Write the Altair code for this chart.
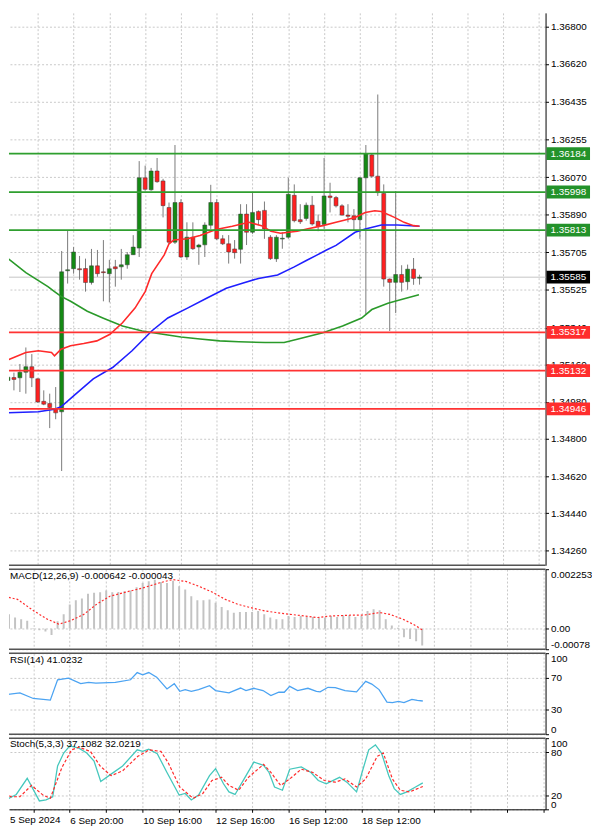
import altair as alt
import pandas as pd

FONT = "Liberation Sans"

# ---------------- data (H4 candles, bar index 0..69) ----------------
bars = list(range(70))
opens = [1.35084, 1.35098, 1.35097, 1.35124, 1.35151, 1.35092, 1.34983, 1.34972, 1.34948, 1.34932,
         1.35616, 1.35626, 1.35626, 1.35627, 1.35559, 1.35640, 1.35611, 1.35602, 1.35635, 1.35635,
         1.35645, 1.35694, 1.35726, 1.36067, 1.36009, 1.36100, 1.36052, 1.35923, 1.35755, 1.35947,
         1.35683, 1.35779, 1.35731, 1.35742, 1.35837, 1.35947, 1.35771, 1.35747, 1.35722, 1.35720,
         1.35891, 1.35803, 1.35904, 1.35909, 1.35779, 1.35674, 1.35770, 1.35779, 1.35982, 1.35864,
         1.35870, 1.35934, 1.35856, 1.35841, 1.35979, 1.35971, 1.35931, 1.35886, 1.35883, 1.35864,
         1.36067, 1.36178, 1.36075, 1.35991, 1.35576, 1.35560, 1.35598, 1.35563, 1.35624, 1.35580]
highs = [1.35148, 1.35122, 1.35164, 1.35244, 1.35212, 1.35094, 1.35036, 1.35020, 1.35052, 1.35712,
         1.35813, 1.35731, 1.35688, 1.35675, 1.35722, 1.35717, 1.35765, 1.35669, 1.35669, 1.35722,
         1.35707, 1.35789, 1.36148, 1.36126, 1.36115, 1.36163, 1.36062, 1.35947, 1.36226, 1.35963,
         1.35851, 1.35851, 1.35747, 1.35851, 1.36033, 1.35963, 1.35789, 1.35789, 1.35765, 1.35939,
         1.35939, 1.35995, 1.35909, 1.35952, 1.35789, 1.35789, 1.35803, 1.36067, 1.36035, 1.35939,
         1.35947, 1.35979, 1.35889, 1.36163, 1.36043, 1.35979, 1.35939, 1.35939, 1.35915, 1.36071,
         1.36226, 1.36187, 1.36471, 1.36035, 1.35579, 1.36003, 1.35643, 1.35646, 1.35678, 1.35597]
lows = [1.35036, 1.35036, 1.35028, 1.35020, 1.35052, 1.34975, 1.34964, 1.34853, 1.34896, 1.34645,
        1.35554, 1.35602, 1.35573, 1.35515, 1.35549, 1.35587, 1.35468, 1.35463, 1.35539, 1.35573,
        1.35626, 1.35693, 1.35683, 1.36004, 1.36004, 1.36043, 1.35875, 1.35746, 1.35746, 1.35678,
        1.35669, 1.35717, 1.35645, 1.35683, 1.35819, 1.35765, 1.35741, 1.35651, 1.35675, 1.35651,
        1.35741, 1.35795, 1.35837, 1.35771, 1.35669, 1.35659, 1.35723, 1.35771, 1.35851, 1.35843,
        1.35859, 1.35835, 1.35808, 1.35819, 1.35899, 1.35923, 1.35883, 1.35851, 1.35811, 1.35771,
        1.35404, 1.36067, 1.35979, 1.35539, 1.35324, 1.35411, 1.35515, 1.35524, 1.35548, 1.35549]
closes = [1.35100, 1.35089, 1.35124, 1.35151, 1.35097, 1.34980, 1.34969, 1.34953, 1.34927, 1.35611,
          1.35621, 1.35707, 1.35621, 1.35559, 1.35640, 1.35602, 1.35607, 1.35626, 1.35626, 1.35645,
          1.35694, 1.35731, 1.36067, 1.36011, 1.36100, 1.36048, 1.35932, 1.35755, 1.35947, 1.35683,
          1.35779, 1.35723, 1.35741, 1.35838, 1.35947, 1.35771, 1.35747, 1.35707, 1.35704, 1.35891,
          1.35803, 1.35899, 1.35864, 1.35819, 1.35675, 1.35779, 1.35774, 1.35987, 1.35859, 1.35854,
          1.35934, 1.35843, 1.35832, 1.35979, 1.35971, 1.35931, 1.35886, 1.35880, 1.35864, 1.36067,
          1.36183, 1.36075, 1.35995, 1.35576, 1.35560, 1.35598, 1.35560, 1.35624, 1.35579, 1.35585]

# moving averages (bar position, price)
ma_red_x = [-0.3, 3.0, 5.1, 7.3, 7.8, 8.9, 10.5, 12.7, 14.9, 17.1, 19.2, 21.3, 23.0, 24.1, 26.2, 27.0, 27.8,
            30.1, 32.2, 34.9, 37.6, 40.4, 42.5, 44.1, 45.7, 48.5, 50.1, 52.8, 55.0, 58.2, 59.9, 61.5, 62.6,
            64.8, 66.4, 68.0, 69.0]
ma_red_v = [1.35180, 1.35220, 1.35228, 1.35220, 1.35204, 1.35236, 1.35252, 1.35263, 1.35276, 1.35308,
            1.35364, 1.35435, 1.35515, 1.35602, 1.35693, 1.35747, 1.35765, 1.35771, 1.35787, 1.35816,
            1.35832, 1.35851, 1.35835, 1.35808, 1.35798, 1.35808, 1.35819, 1.35835, 1.35851, 1.35875,
            1.35899, 1.35907, 1.35904, 1.35875, 1.35851, 1.35835, 1.35832]
ma_blue_x = [-0.3, 5.1, 7.8, 8.9, 11.1, 14.3, 17.6, 20.8, 24.1, 26.8, 30.1, 33.3, 36.6, 39.3, 42.0, 45.2,
             48.0, 50.1, 51.7, 53.4, 55.0, 58.2, 59.9, 62.6, 65.3, 69.0]
ma_blue_v = [1.34927, 1.34932, 1.34944, 1.34956, 1.35012, 1.35092, 1.35148, 1.35228, 1.35324, 1.35387,
             1.35435, 1.35483, 1.35531, 1.35555, 1.35579, 1.35596, 1.35635, 1.35667, 1.35691, 1.35717,
             1.35739, 1.35803, 1.35819, 1.35838, 1.35838, 1.35832]
ma_green_x = [-0.3, 3.0, 6.7, 7.8, 8.9, 10.5, 13.3, 16.0, 19.2, 22.5, 25.7, 29.0, 32.2, 35.5, 38.7, 43.1,
              46.3, 48.5, 52.8, 56.1, 59.3, 61.0, 63.7, 65.8, 68.9]
ma_green_v = [1.35683, 1.35607, 1.35539, 1.35515, 1.35492, 1.35468, 1.35420, 1.35386, 1.35348, 1.35324,
              1.35309, 1.35295, 1.35285, 1.35276, 1.35272, 1.35268, 1.35268, 1.35284, 1.35316, 1.35348,
              1.35387, 1.35428, 1.35459, 1.35476, 1.35500]

price_ticks = [1.36800, 1.36620, 1.36435, 1.36255, 1.36070, 1.35890, 1.35705, 1.35525, 1.35340,
               1.35160, 1.34980, 1.34800, 1.34620, 1.34440, 1.34260]
levels_green = [1.36184, 1.35998, 1.35813]
levels_red = [1.35317, 1.35132, 1.34946]
last_price = 1.35585

# MACD
macd_hist = [0.000694, 0.000544, 0.000419, 0.000357, 0.000295, 0.00002, -0.00006, -0.000105, -0.000242, 0.00028,
             0.000544, 0.000919, 0.001081, 0.001143, 0.001318, 0.001356, 0.00138, 0.001443, 0.00138, 0.001393,
             0.001418, 0.001443, 0.001568, 0.00173, 0.001792, 0.001855, 0.001767, 0.00173, 0.001817, 0.001605,
             0.00148, 0.001231, 0.001081, 0.001081, 0.001106, 0.000981, 0.000819, 0.000694, 0.000607, 0.000632,
             0.000632, 0.000632, 0.000669, 0.000544, 0.000419, 0.000357, 0.000357, 0.000482, 0.000444, 0.000482,
             0.000444, 0.000444, 0.000419, 0.000419, 0.000482, 0.000444, 0.000507, 0.000507, 0.000444, 0.000482,
             0.000669, 0.000731, 0.000694, 0.000357, 0.00012, 0.00003, -0.00033, -0.000392, -0.000479, -0.000642]
macd_sig_x = [-0.3, 2.4, 5.1, 7.3, 9.2, 11.1, 13.3, 15.4, 17.6, 20.3, 23.0, 25.7, 27.9, 30.1, 32.2, 34.4,
              36.6, 38.7, 40.9, 43.1, 46.3, 49.6, 51.7, 53.9, 57.2, 59.3, 62.0, 63.7, 65.8, 67.5, 69.0]
macd_sig_v = [0.00125, 0.00111, 0.00067, 0.00036, 0.00017, 0.00030, 0.00054, 0.00092, 0.00123, 0.00139,
              0.00154, 0.00173, 0.00186, 0.00179, 0.00161, 0.00139, 0.00111, 0.00092, 0.00079, 0.00067,
              0.00057, 0.00048, 0.00042, 0.00048, 0.00051, 0.00051, 0.00061, 0.00054, 0.00036, 0.00017,
              -0.000043]
macd_ticks = [0.002253, 0.0, -0.00078]
macd_tick_labels = ["0.002253", "0.00", "-0.00078"]

# RSI
rsi_x = [-0.3, 2.8, 5.0, 7.8, 9.0, 10.8, 12.8, 14.1, 15.3, 18.5, 21.0, 22.1, 23.0, 24.0, 25.3, 27.0, 28.2,
         29.1, 30.0, 31.0, 32.2, 34.0, 35.0, 37.2, 39.1, 40.0, 41.3, 42.8, 44.1, 45.4, 46.3, 47.2, 48.5,
         50.2, 51.6, 52.2, 53.5, 54.7, 56.3, 58.2, 59.7, 60.7, 61.9, 63.2, 64.1, 65.1, 66.0, 67.3, 68.2, 69.1]
rsi_v = [48.2, 51.0, 44.1, 42.1, 67.2, 69.2, 62.4, 63.9, 63.1, 63.9, 67.2, 76.1, 73.3, 76.1, 70.4, 55.8,
         62.4, 53.0, 55.1, 53.0, 55.1, 59.9, 53.9, 51.0, 57.0, 53.9, 56.7, 53.9, 47.8, 51.8, 51.8, 59.1,
         53.9, 56.7, 53.0, 52.2, 57.9, 57.5, 53.9, 52.2, 65.2, 61.9, 55.1, 39.7, 38.9, 40.5, 38.9, 43.0,
         41.8, 41.0]

# Stochastic
stk_x = [-0.3, 1.0, 2.2, 4.0, 6.0, 7.1, 8.2, 9.0, 10.0, 11.0, 12.5, 13.8, 15.0, 16.1, 17.8, 19.7, 22.1,
         23.0, 24.0, 25.4, 27.0, 29.0, 30.0, 31.0, 32.2, 34.0, 35.0, 36.3, 37.2, 38.2, 39.7, 41.3, 42.9,
         43.8, 44.7, 46.0, 47.2, 49.1, 50.7, 51.9, 53.2, 55.4, 56.6, 58.2, 59.1, 60.2, 61.3, 62.3, 63.5,
         64.4, 65.4, 66.5, 67.9, 69.1]
stk_v = [20.0, 15.5, 20.9, 43.6, 11.8, 13.2, 17.7, 60.9, 79.1, 89.1, 85.9, 79.1, 67.7, 39.1, 49.5, 60.9,
         83.6, 81.4, 84.5, 78.2, 51.8, 20.0, 22.3, 13.2, 20.0, 47.3, 57.3, 35.9, 24.5, 20.9, 42.7, 66.4,
         61.8, 51.8, 31.4, 26.8, 56.4, 59.5, 51.8, 40.5, 35.9, 45.0, 38.2, 24.5, 51.8, 83.6, 90.5, 79.1,
         47.3, 29.1, 20.9, 24.5, 31.4, 37.1]
std_x = [-0.3, 1.3, 2.8, 4.7, 6.6, 7.8, 9.7, 11.3, 12.5, 14.4, 16.0, 17.8, 19.7, 22.2, 24.1, 26.0, 27.2,
         29.1, 31.3, 32.9, 34.4, 36.0, 37.2, 38.8, 40.4, 42.9, 44.1, 45.7, 47.2, 49.1, 51.0, 52.9, 54.7,
         56.3, 58.2, 59.7, 61.6, 62.6, 64.1, 65.4, 66.9, 69.1]
std_v = [26.8, 17.7, 17.7, 33.6, 20.0, 15.5, 58.6, 83.6, 87.3, 81.4, 60.9, 47.3, 54.1, 74.5, 83.6, 81.4,
         65.5, 31.4, 15.5, 22.3, 40.5, 45.0, 33.6, 26.8, 45.0, 63.2, 51.8, 33.6, 42.7, 56.4, 51.8, 40.5,
         38.2, 42.7, 31.4, 42.7, 74.5, 79.1, 42.7, 26.8, 24.5, 32.0]

grid_bars = [5, 11, 17, 23, 29, 35, 41, 47, 53, 59, 65, 71, 77, 83, 89]
date_bars = [11, 23, 35, 47, 59]
date_labels = ["6 Sep 20:00", "10 Sep 16:00", "12 Sep 16:00", "16 Sep 12:00", "18 Sep 12:00"]
first_date_label = "5 Sep 2024"
macd_title = "MACD(12,26,9) -0.000642 -0.000043"
rsi_title = "RSI(14) 41.0232"
sto_title = "Stoch(5,3,3) 37.1082 32.0219"

# ---------------- styling / layout ----------------
W = 543
H_MAIN, H_MACD, H_RSI, H_STO = 559, 81, 82, 72
GRID = "#c8c8c8"
UP, DOWN = "#148a14", "#ff2020"
XS = alt.Scale(domain=[1.0, 89.3], nice=False, zero=False)
one = pd.DataFrame({"k": [0]})


def expr_map(vals, labels):
    s = "''"
    for v, l in reversed(list(zip(vals, labels))):
        s = f"datum.value == {v} ? '{l}' : {s}"
    return s


def x_axis(labels=False):
    common = dict(values=grid_bars, grid=True, gridColor=GRID, gridDash=[2, 2], gridWidth=1, title=None)
    if labels:
        return alt.Axis(**common, labelExpr=expr_map(date_bars, date_labels), labelAlign="left",
                        labelFlush=False, labelOverlap=False, ticks=True, tickSize=3, tickColor="black",
                        domain=True, domainColor="black", labelPadding=3, labelFont=FONT,
                        labelFontSize=10, labelColor="black")
    return alt.Axis(**common, labels=False, ticks=False, domain=False)


def y_axis(values, **kw):
    base = dict(orient="right", values=values, grid=True, gridColor=GRID, gridDash=[2, 2], title=None,
                tickSize=3, tickColor="black", domainColor="black", labelPadding=2, labelFont=FONT,
                labelFontSize=10, labelColor="black", labelOverlap=False)
    base.update(kw)
    return alt.Axis(**base)


def hrule(h):
    return alt.Chart(one).mark_rule(color="#555555", strokeWidth=1.5).encode(
        x=alt.value(0), x2=alt.value(W), y=alt.value(h))


def panel_title(txt, y):
    return alt.Chart(one).mark_text(align="left", baseline="middle", font=FONT, fontSize=10,
                                    color="black").encode(x=alt.value(1), y=alt.value(y), text=alt.value(txt))


# ---------------- main price panel ----------------
ys_main = alt.Scale(domain=[1.341878, 1.36867], nice=False, zero=False)
ya_main = y_axis(price_ticks, format=".5f", labelFlush=False)
xa = x_axis(False)
X = alt.X("j:Q", scale=XS, axis=xa)

candles = pd.DataFrame({"j": bars, "open": opens, "high": highs, "low": lows, "close": closes})
candles["dir"] = ["up" if c >= o else "down" for o, c in zip(opens, closes)]

bid = alt.Chart(pd.DataFrame({"v": [last_price]})).mark_rule(color="#c4c4c4", strokeWidth=1).encode(
    y=alt.Y("v:Q", scale=ys_main, axis=ya_main))
wicks = alt.Chart(candles).mark_rule(color="#7a7a7a", strokeWidth=1, clip=True).encode(
    x=X, y=alt.Y("low:Q", scale=ys_main, axis=ya_main), y2="high:Q")
bodies = alt.Chart(candles).mark_bar(size=4, stroke="#3a3a3a", strokeWidth=0.5, clip=True).encode(
    x=X, y=alt.Y("open:Q", scale=ys_main, axis=ya_main), y2="close:Q",
    fill=alt.Fill("dir:N", scale=alt.Scale(domain=["up", "down"], range=[UP, DOWN]), legend=None))

ma_layers = []
for xs, vs, col in [(ma_green_x, ma_green_v, "#2a9a2a"), (ma_blue_x, ma_blue_v, "#1f1fff"),
                    (ma_red_x, ma_red_v, "#ff2a2a")]:
    ma_layers.append(alt.Chart(pd.DataFrame({"j": xs, "v": vs})).mark_line(
        strokeWidth=1.6, color=col, clip=True).encode(x=X, y=alt.Y("v:Q", scale=ys_main, axis=ya_main)))

lv_df = pd.DataFrame({"v": levels_green + levels_red,
                      "c": ["#2f9f2f"] * len(levels_green) + ["#ff3333"] * len(levels_red)})
lvl = alt.Chart(lv_df).mark_rule(strokeWidth=1.8).encode(
    y=alt.Y("v:Q", scale=ys_main, axis=ya_main), stroke=alt.Stroke("c:N", scale=None))

box_df = pd.DataFrame({"v": levels_green + levels_red + [last_price],
                       "c": ["#23922a"] * 3 + ["#ff2d2d"] * 3 + ["#000000"]})
box_df["t"] = [f"{v:.5f}" for v in box_df["v"]]
BOX = "M-1,-0.2955L1,-0.2955L1,0.2955L-1,0.2955Z"
boxes = alt.Chart(box_df).mark_point(shape=BOX, size=1936, filled=True, opacity=1, strokeWidth=0).encode(
    x=alt.value(W + 23), y=alt.Y("v:Q", scale=ys_main, axis=ya_main), fill=alt.Fill("c:N", scale=None))
box_txt = alt.Chart(box_df).mark_text(align="left", baseline="middle", font=FONT, fontSize=10,
                                      color="white").encode(
    x=alt.value(W + 5), y=alt.Y("v:Q", scale=ys_main, axis=ya_main), text="t:N")

main = alt.layer(bid, wicks, bodies, *ma_layers, lvl, boxes, box_txt, hrule(H_MAIN)).resolve_scale(
    fill="independent", stroke="independent").properties(width=W, height=H_MAIN)

# ---------------- MACD ----------------
ys_macd = alt.Scale(domain=[-0.00078, 0.002253], nice=False, zero=False)
ya_macd = y_axis(macd_ticks, labelExpr=expr_map(macd_ticks, macd_tick_labels), labelFlush=True)
macd_df = pd.DataFrame({"j": bars, "m": macd_hist})
hist = alt.Chart(macd_df).mark_rule(color="#c3c3c3", strokeWidth=2, clip=True).encode(
    x=X, y=alt.Y("m:Q", scale=ys_macd, axis=ya_macd), y2=alt.datum(0))
sig = alt.Chart(pd.DataFrame({"j": macd_sig_x, "s": macd_sig_v})).mark_line(
    color="#ff2a2a", strokeDash=[2, 2], strokeWidth=1.2, clip=True).encode(
    x=X, y=alt.Y("s:Q", scale=ys_macd, axis=ya_macd))
macd = alt.layer(hist, sig, panel_title(macd_title, 7), hrule(0), hrule(H_MACD)).properties(
    width=W, height=H_MACD)

# ---------------- RSI ----------------
ys_rsi = alt.Scale(domain=[0, 100], nice=False, zero=False)
ya_rsi = y_axis([0, 30, 70, 100], format="d", labelFlush=True)
rsi_line = alt.Chart(pd.DataFrame({"j": rsi_x, "r": rsi_v})).mark_line(
    color="#4ba3f2", strokeWidth=1.3, clip=True).encode(x=X, y=alt.Y("r:Q", scale=ys_rsi, axis=ya_rsi))
rsi = alt.layer(rsi_line, panel_title(rsi_title, 7), hrule(0), hrule(H_RSI)).properties(
    width=W, height=H_RSI)

# ---------------- Stochastic ----------------
ys_sto = alt.Scale(domain=[0, 100], nice=False, zero=False)
ya_sto = y_axis([0, 20, 80, 100], format="d", labelFlush=True)
XL = alt.X("j:Q", scale=XS, axis=x_axis(True))
k_line = alt.Chart(pd.DataFrame({"j": stk_x, "s": stk_v})).mark_line(
    color="#46c8bd", strokeWidth=1.3, clip=True).encode(x=XL, y=alt.Y("s:Q", scale=ys_sto, axis=ya_sto))
d_line = alt.Chart(pd.DataFrame({"j": std_x, "s": std_v})).mark_line(
    color="#ff2a2a", strokeDash=[3, 2], strokeWidth=1.2, clip=True).encode(
    x=XL, y=alt.Y("s:Q", scale=ys_sto, axis=ya_sto))
first_lbl = alt.Chart(one).mark_text(align="left", baseline="top", font=FONT, fontSize=10,
                                     color="black").encode(
    x=alt.value(1), y=alt.value(H_STO + 6), text=alt.value(first_date_label))
sto = alt.layer(k_line, d_line, panel_title(sto_title, 6), first_lbl, hrule(0)).properties(
    width=W, height=H_STO)

chart = alt.vconcat(main, macd, rsi, sto, spacing=4, bounds="flush").properties(
    padding=0, background="white").configure_view(strokeWidth=0)

chart.save("out.html", embed_options={"renderer": "svg", "actions": False})
